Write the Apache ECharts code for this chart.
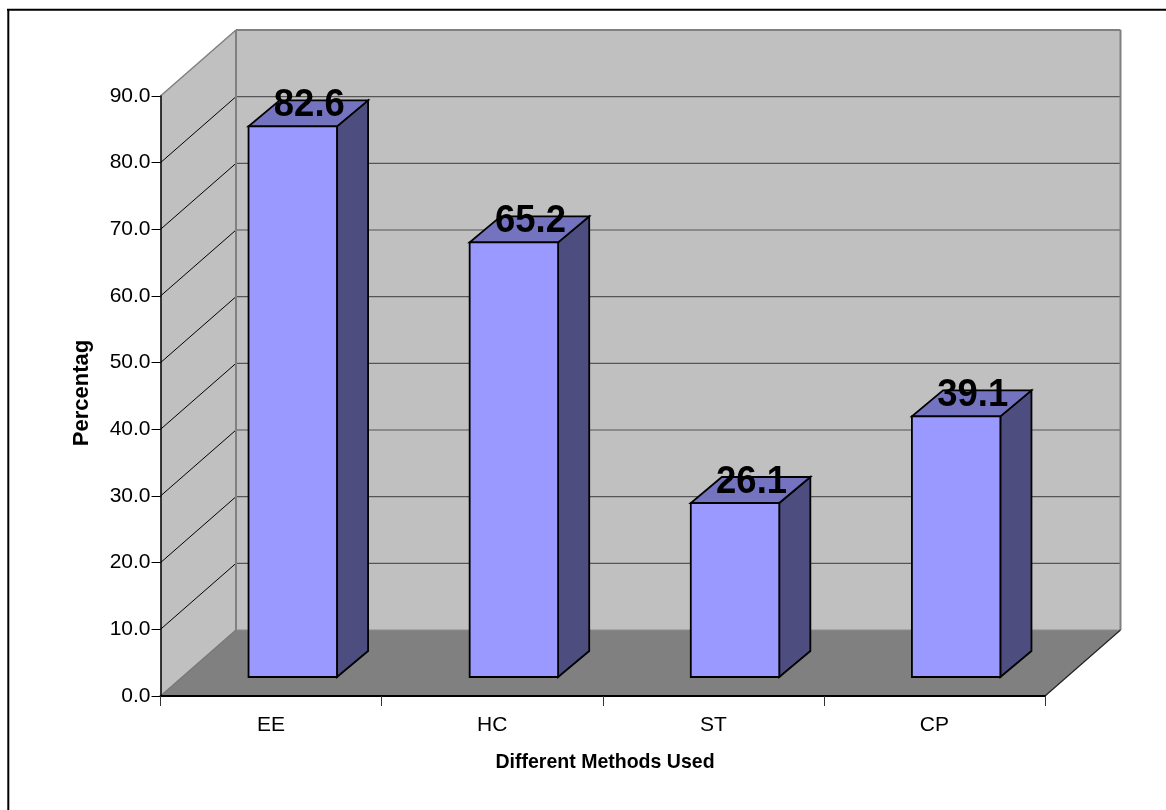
<!DOCTYPE html>
<html>
<head>
<meta charset="utf-8">
<style>html,body{margin:0;padding:0;background:#fff}#chart{width:1166px;height:810px}</style>
<script src="https://cdn.jsdelivr.net/npm/echarts@6/dist/echarts.min.js"></script>
</head>
<body>
<div id="chart"></div>
<script>
// Percentage of each method, drawn as an oblique 3D column chart.
const categories = ['EE', 'HC', 'ST', 'CP'];
const percentages = [82.6, 65.2, 26.1, 39.1];
const valueTicks = [0, 10, 20, 30, 40, 50, 60, 70, 80, 90];

const FONT = '"Liberation Sans", Arial, sans-serif';
// Oblique offsets in pixels: full box depth, and the near and far faces of a column.
const BOX_DEPTH = [75.5, -66];
const COL_NEAR = [21.7, -19];
const COL_FAR = [52.8, -45];
// Share of a category slot taken by a column.
const COL_WIDTH = 0.4;

const shift = (p, d) => [p[0] + d[0], p[1] + d[1]];
const poly = (points, fill, stroke, lineWidth) => ({
  type: 'polygon',
  shape: { points },
  style: { fill, stroke: stroke || null, lineWidth: lineWidth || 0, lineJoin: 'miter' }
});
const seg = (a, b, stroke, lineWidth) => ({
  type: 'line',
  shape: { x1: a[0], y1: a[1], x2: b[0], y2: b[1] },
  style: { stroke, lineWidth }
});

// Floor, side wall, back wall and the gridlines that wrap around them.
function renderRoom(params, api) {
  if (params.dataIndex !== 0) return { type: 'group', children: [] };
  const cs = params.coordSys;
  const left = cs.x, right = cs.x + cs.width;
  const y0 = api.coord([0, valueTicks[0]])[1];
  const yTop = api.coord([0, valueTicks[valueTicks.length - 1]])[1];
  const backL = shift([left, y0], BOX_DEPTH), backR = shift([right, y0], BOX_DEPTH);
  const backTL = shift([left, yTop], BOX_DEPTH), backTR = shift([right, yTop], BOX_DEPTH);
  const children = [
    poly([[left, yTop], backTL, backL, [left, y0]], '#c0c0c0'),
    poly([backTL, backTR, backR, backL], '#c0c0c0'),
    poly([[left, y0], [right, y0], backR, backL], '#808080')
  ];
  valueTicks.slice(1, -1).forEach(v => {
    const y = api.coord([0, v])[1];
    const a = [left, y], b = shift(a, BOX_DEPTH), c = shift([right, y], BOX_DEPTH);
    children.push(seg(a, b, '#000', 1), seg(b, c, '#555', 1.2));
  });
  children.push(
    seg(backTL, backL, '#808080', 2),
    seg(backTL, backTR, '#808080', 2),
    seg(backTR, backR, '#808080', 2),
    seg(backL, backR, '#8c8c8c', 1.2),
    seg([left, yTop], backTL, '#808080', 1.5),
    seg([left, y0], backL, '#777', 1.2),
    seg([right, y0], backR, '#222', 1.2)
  );
  return { type: 'group', children };
}

// One column: front, top and side faces, with its value above the top face.
function renderColumn(params, api) {
  const slot = api.size([1, 0])[0];
  const cx = api.coord([api.value(0), 0])[0];
  const y0 = api.coord([0, 0])[1];
  const value = api.value(1);
  const yV = api.coord([0, value])[1];
  const half = slot * COL_WIDTH / 2;
  const fBL = shift([cx - half, y0], COL_NEAR), fBR = shift([cx + half, y0], COL_NEAR);
  const fTL = shift([cx - half, yV], COL_NEAR), fTR = shift([cx + half, yV], COL_NEAR);
  const bBR = shift([cx + half, y0], COL_FAR);
  const bTL = shift([cx - half, yV], COL_FAR), bTR = shift([cx + half, yV], COL_FAR);
  const midX = (fTL[0] + bTR[0]) / 2, midY = (fTL[1] + bTR[1]) / 2;
  return {
    type: 'group',
    children: [
      poly([fBR, bBR, bTR, fTR], '#4d4d80', '#000', 1.8),
      poly([fTL, fTR, bTR, bTL], '#7373bf', '#000', 1.8),
      poly([fTL, fTR, fBR, fBL], '#9999ff', '#000', 1.8),
      {
        type: 'text',
        x: midX + 1, y: midY - 7.5,
        scaleX: 0.96,
        style: {
          text: value.toFixed(1),
          x: 0, y: 0,
          align: 'center', verticalAlign: 'middle',
          fill: '#000',
          font: 'bold 38px ' + FONT
        }
      }
    ]
  };
}

const chart = echarts.init(document.getElementById('chart'), null, { renderer: 'canvas' });
chart.setOption({
  animation: false,
  backgroundColor: '#fff',
  grid: { left: 160.5, right: 121, top: 96, bottom: 114, containLabel: false },
  xAxis: {
    type: 'category',
    data: categories,
    boundaryGap: true,
    z: 3,
    axisLine: { show: true, lineStyle: { color: '#000', width: 2 } },
    axisTick: { show: true, length: 10, lineStyle: { color: '#333', width: 1 } },
    axisLabel: { fontFamily: FONT, fontSize: 21, color: '#000', margin: 19 }
  },
  yAxis: {
    type: 'value',
    min: 0,
    max: 90,
    interval: 10,
    z: 3,
    splitLine: { show: false },
    axisLine: { show: true, lineStyle: { color: '#000', width: 1.5 } },
    axisTick: { show: true, length: 9, lineStyle: { color: '#000', width: 1 } },
    axisLabel: { fontFamily: FONT, fontSize: 21, color: '#000', margin: 10, formatter: v => v.toFixed(1) }
  },
  series: [
    {
      type: 'custom',
      name: 'room',
      coordinateSystem: 'cartesian2d',
      clip: false,
      silent: true,
      z: 1,
      renderItem: renderRoom,
      data: categories.map((c, i) => [i, 0])
    },
    {
      type: 'custom',
      name: 'Percentage',
      coordinateSystem: 'cartesian2d',
      clip: false,
      z: 5,
      renderItem: renderColumn,
      encode: { x: 0, y: 1 },
      data: categories.map((c, i) => [i, percentages[i]])
    }
  ],
  graphic: [
    { type: 'line', silent: true, shape: { x1: 8.3, y1: 9, x2: 8.3, y2: 810 }, style: { stroke: '#000', lineWidth: 2 } },
    { type: 'line', silent: true, shape: { x1: 7, y1: 9.7, x2: 1166, y2: 9.7 }, style: { stroke: '#000', lineWidth: 2 } },
    {
      type: 'text', silent: true, x: 605, y: 762, scaleX: 0.93,
      style: { text: 'Different Methods Used', x: 0, y: 0, align: 'center', verticalAlign: 'middle', fill: '#000', font: 'bold 21px ' + FONT }
    },
    {
      type: 'text', silent: true, x: 82, y: 393, rotation: Math.PI / 2,
      style: { text: 'Percentag', x: 0, y: 0, align: 'center', verticalAlign: 'middle', fill: '#000', font: 'bold 22px ' + FONT }
    }
  ]
});
</script>
</body>
</html>
